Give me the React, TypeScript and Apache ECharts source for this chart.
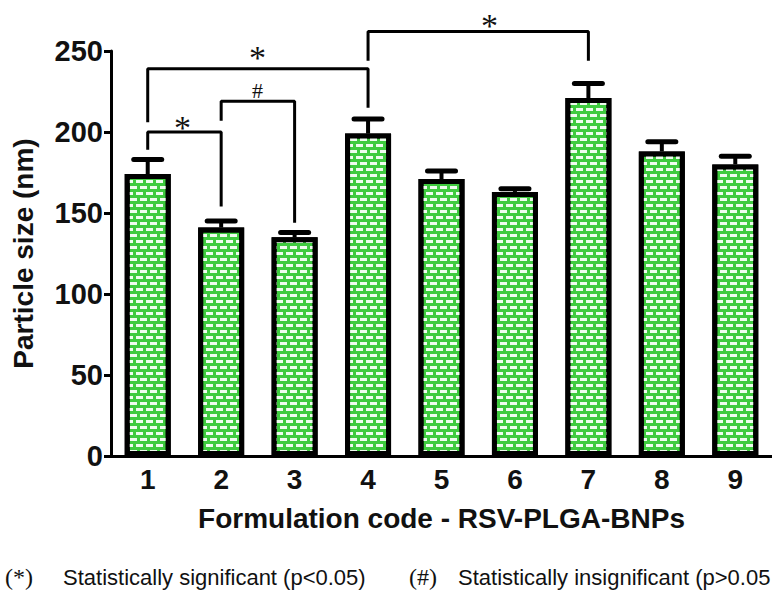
import React, { useEffect, useRef } from "react";
import * as echarts from "echarts";

const categories = ["1", "2", "3", "4", "5", "6", "7", "8", "9"];
const particleSize = [174, 141, 135, 199, 171, 163, 221, 188, 180];
const sizeError = [9, 4, 3, 9, 5, 2, 9, 6, 5];
const yTicks = { min: 0, max: 250, interval: 50 };

// significance brackets: [categoryIndex, value] polylines
const bracket12 = [[0, 189], [0, 200], [1, 200], [1, 154]];
const bracket23 = [[1, 207], [1, 219], [2, 219], [2, 144]];
const bracket14 = [[0, 206], [0, 239], [3, 239], [3, 215]];
const bracket47 = [[3, 244], [3, 262], [6, 262], [6, 244]];

const FONT = 'Arial, "Liberation Sans", Helvetica, sans-serif';
const SERIF = '"Liberation Serif", "Times New Roman", "DejaVu Serif", serif';

export default function App() {
  const ref = useRef<HTMLDivElement>(null);
  useEffect(() => {
    if (!ref.current) return;
    const chart = echarts.init(ref.current, undefined, { renderer: "svg" });
    const bracketSeries = [bracket12, bracket23, bracket14, bracket47].map((d) => ({
      type: "line",
      data: d,
      symbol: "none",
      clip: false,
      z: 5,
      lineStyle: { color: "#000", width: 3 },
      silent: true,
    }));
    chart.setOption({
      animation: false,
      backgroundColor: "#fff",
      grid: { left: 111, top: 51, width: 669, bottom: 134 },
      xAxis: {
        type: "category",
        data: categories,
        name: "Formulation code - RSV-PLGA-BNPs",
        nameLocation: "middle",
        nameGap: 48,
        nameTextStyle: { fontFamily: FONT, fontWeight: "bold", fontSize: 28, color: "#111" },
        axisLine: { lineStyle: { color: "#000", width: 3 } },
        axisTick: { alignWithLabel: true, length: 7, lineStyle: { color: "#000", width: 3 } },
        axisLabel: { fontFamily: FONT, fontWeight: "bold", fontSize: 28, color: "#111", margin: 9 },
      },
      yAxis: {
        type: "value",
        min: yTicks.min,
        max: yTicks.max,
        interval: yTicks.interval,
        name: "Particle size (nm)",
        nameLocation: "middle",
        nameGap: 74,
        nameTextStyle: { fontFamily: FONT, fontWeight: "bold", fontSize: 28, color: "#111" },
        axisLine: { show: true, lineStyle: { color: "#000", width: 3 } },
        axisTick: { show: true, length: 7, lineStyle: { color: "#000", width: 3 } },
        axisLabel: { fontFamily: FONT, fontWeight: "bold", fontSize: 29, color: "#111", margin: 8 },
        splitLine: { show: false },
      },
      series: [
        {
          type: "bar",
          data: particleSize,
          barWidth: 46,
          z: 2,
          itemStyle: {
            color: "#3fcb3f",
            borderColor: "#000",
            borderWidth: 5,
            decal: {
              symbol: "rect",
              symbolSize: 1,
              symbolKeepAspect: false,
              color: "#effcef",
              backgroundColor: "#3fcb3f",
              dashArrayX: [[6.5, 2.5], [3, 2.5, 3.5, 0]],
              dashArrayY: [2.6, 2.2],
              rotation: 0,
            },
          },
        },
        {
          type: "custom",
          z: 4,
          data: particleSize.map((v, i) => [i, v, sizeError[i]]),
          encode: { x: 0, y: 1 },
          renderItem: (params: any, api: any) => {
            const x = api.value(0);
            const v = api.value(1);
            const e = api.value(2);
            const top = api.coord([x, v + e]);
            const base = api.coord([x, v]);
            const half = 14;
            return {
              type: "group",
              children: [
                {
                  type: "line",
                  shape: { x1: top[0], y1: top[1], x2: base[0], y2: base[1] },
                  style: { stroke: "#000", lineWidth: 4 },
                },
                {
                  type: "line",
                  shape: { x1: top[0] - half, y1: top[1], x2: top[0] + half, y2: top[1] },
                  style: { stroke: "#000", lineWidth: 5, lineCap: "round" },
                },
              ],
            };
          },
        },
        ...bracketSeries,
      ],
      graphic: [
        { type: "text", left: 174, top: 110, style: { text: "*", font: `34px ${SERIF}`, fill: "#111" } },
        { type: "text", left: 252, top: 79, style: { text: "#", font: `22px ${SERIF}`, fill: "#111" } },
        { type: "text", left: 249, top: 40, style: { text: "*", font: `34px ${SERIF}`, fill: "#111" } },
        { type: "text", left: 481, top: 8, style: { text: "*", font: `34px ${SERIF}`, fill: "#111" } },
        { type: "text", left: 5, top: 565, style: { text: "(*)", font: `24px ${SERIF}`, fill: "#111" } },
        { type: "text", left: 63, top: 566, style: { text: "Statistically significant (p<0.05)", font: `22px ${FONT}`, fill: "#111" } },
        { type: "text", left: 409, top: 565, style: { text: "(#)", font: `24px ${SERIF}`, fill: "#111" } },
        { type: "text", left: 458, top: 566, style: { text: "Statistically insignificant (p>0.05", font: `22px ${FONT}`, fill: "#111" } },
      ],
    });
    return () => chart.dispose();
  }, []);
  return (
    <div
      ref={ref}
      style={{ position: "fixed", left: 0, top: 0, width: 772, height: 590, background: "#fff" }}
    />
  );
}
